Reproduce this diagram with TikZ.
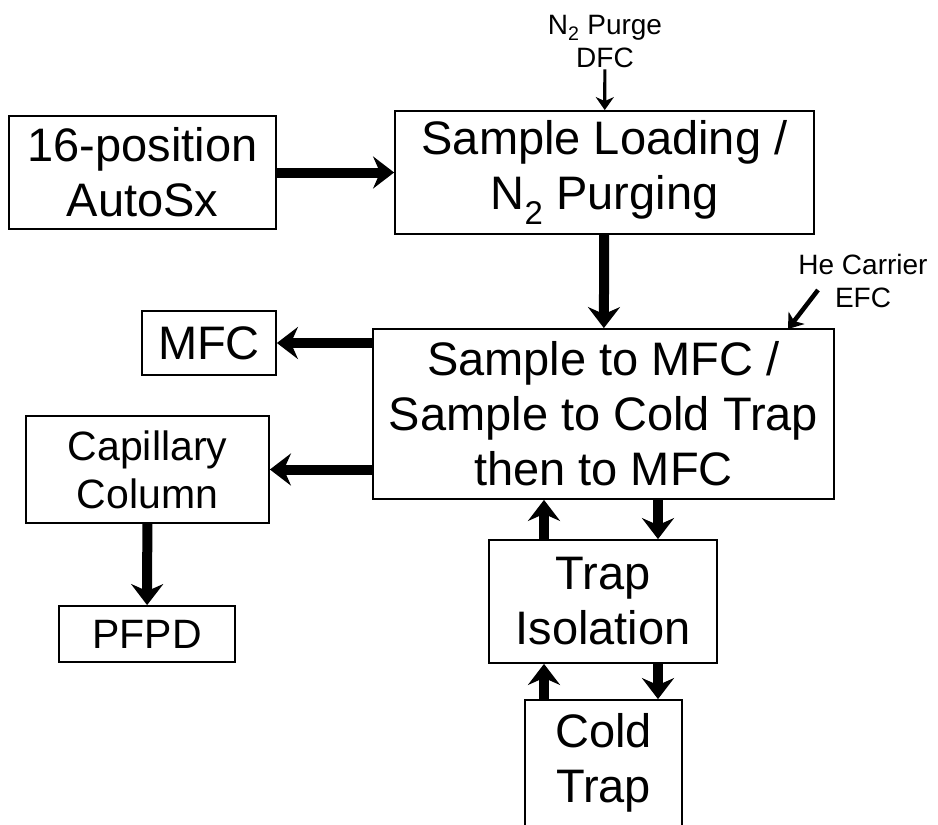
\documentclass[tikz,border=0pt]{standalone}
\usepackage{fontspec}
\setmainfont{Liberation Sans}
\usetikzlibrary{arrows.meta}
\begin{document}
\begin{tikzpicture}[x=1pt,y=-1pt,
  box/.style={draw,line width=1.8pt,inner sep=0pt,align=center,font=\fontsize{47}{55}\selectfont},
  midbox/.style={box,font=\fontsize{41}{48}\selectfont},
  note/.style={inner sep=1pt,align=center,font=\fontsize{28}{33}\selectfont},
  bigarrow/.style={line width=10pt,-{Stealth[length=21pt,width=32pt,inset=7pt]}},
  thinarrow/.style={line width=3.2pt,-{Stealth[length=13pt,width=18pt,inset=4pt]}}]
\clip (0,0) rectangle (938,825);
\node[box,minimum width=267,minimum height=113] (auto) at (142.5,172.5) {16-position\\AutoSx};
\node[box,minimum width=419,minimum height=123] (load) at (604.5,172.5) {Sample Loading /\\N\textsubscript{2} Purging};
\node[box,minimum width=461,minimum height=170] (mid) at (603.5,414) {Sample to MFC /\\Sample to Cold Trap\\then to MFC};
\node[box,minimum width=134,minimum height=64] (mfc) at (209,343) {MFC};
\node[midbox,minimum width=243,minimum height=107] (cap) at (147.5,469.5) {Capillary\\Column};
\node[midbox,minimum width=176,minimum height=56] (pfpd) at (147,634) {PFPD};
\node[box,minimum width=228,minimum height=123] (iso) at (603,601.5) {Trap\\Isolation};
\node[box,minimum width=157,minimum height=126] (cold) at (603.5,763) {Cold\\Trap};
\node[note] (n2) at (605,42) {N\textsubscript{2} Purge\\DFC};
\node[note] (he) at (863,281) {He Carrier\\EFC};
\coordinate (hefrom) at (818,290);
\coordinate (heto) at (788,329);
\coordinate (xl) at (544,0);
\coordinate (xr) at (658,0);
\draw[bigarrow] (auto) -- (load);
\draw[bigarrow] (load) -- (mid);
\draw[thinarrow] (n2) -- (load);
\draw[line width=4.5pt,-{Stealth[length=14pt,width=20pt,inset=4pt]}] (hefrom) -- (heto);
\draw[bigarrow] (mid.west |- mfc) -- (mfc);
\draw[bigarrow] (mid.west |- cap) -- (cap);
\draw[bigarrow] (cap) -- (pfpd);
\draw[bigarrow] (iso.north -| xl) -- (mid.south -| xl);
\draw[bigarrow] (mid.south -| xr) -- (iso.north -| xr);
\draw[bigarrow] (cold.north -| xl) -- (iso.south -| xl);
\draw[bigarrow] (iso.south -| xr) -- (cold.north -| xr);
\end{tikzpicture}
\end{document}
